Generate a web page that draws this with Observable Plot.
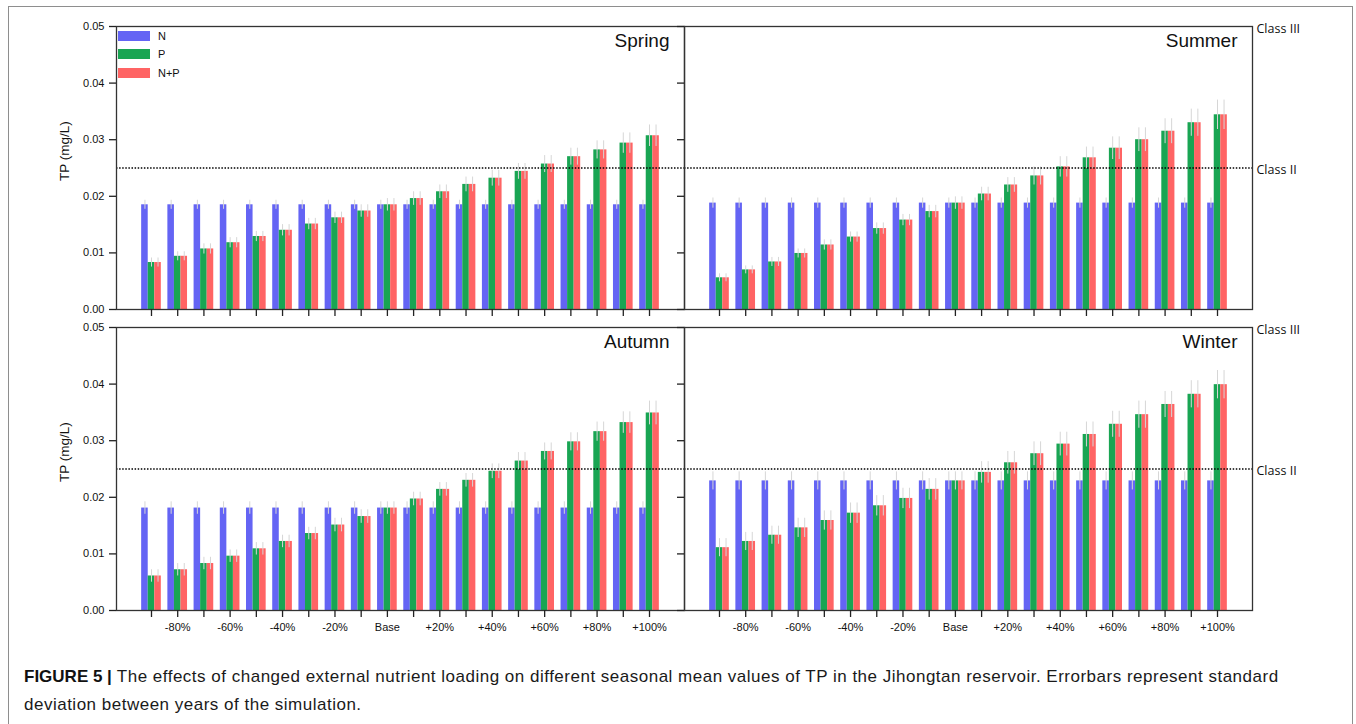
<!DOCTYPE html>
<html>
<head>
<meta charset="utf-8">
<script src="https://cdn.jsdelivr.net/npm/d3@7"></script>
<script src="https://cdn.jsdelivr.net/npm/@observablehq/plot@0.6"></script>
<style>
  html, body { margin: 0; padding: 0; background: #fff; }
  body { width: 1356px; height: 724px; position: relative; overflow: hidden;
         font-family: "Liberation Sans", Arial, sans-serif; }
  #box { position: absolute; left: 8px; top: 6px; width: 1345px; height: 760px;
         border: 1.5px solid #8e8e8e; border-bottom: none; box-sizing: border-box; }
  #chart { position: absolute; left: 0; top: 0; }
  #key { position: absolute; left: 118px; top: 26.4px; }
  #key .tpkey-swatches { margin: 0; font-family: "Liberation Sans", Arial, sans-serif;
                         font-size: 11px; color: #111; }
  #key .tpkey-swatch { height: 18.6px; padding: 0; display: flex; align-items: center; }
  #key .tpkey-swatch > svg { margin-right: 8px; }
  #caption { position: absolute; left: 24px; top: 663px; font-size: 17px;
             line-height: 27.7px; white-space: nowrap; color: #1a1a1a; letter-spacing: 0.5px; }
  #caption b { font-weight: bold; color: #111; letter-spacing: 0; }
</style>
</head>
<body>
<div id="box"></div>
<div id="chart"></div>
<div id="key"></div>
<div id="caption"><b>FIGURE 5 |</b> The effects of changed external nutrient loading on different seasonal mean values of TP in the Jihongtan reservoir. Errorbars represent standard<br>deviation between years of the simulation.</div>
<script>
// Panels, in reading order (left-right, top-bottom)
const seasons = ["Spring", "Summer", "Autumn", "Winter"];

// External loading scenarios (change relative to the base run)
const loadings = ["-90%", "-80%", "-70%", "-60%", "-50%", "-40%", "-30%", "-20%", "-10%", "Base",
                  "+10%", "+20%", "+30%", "+40%", "+50%", "+60%", "+70%", "+80%", "+90%", "+100%"];
// Scenarios that carry a tick label
const tickLabels = ["-80%", "-60%", "-40%", "-20%", "Base", "+20%", "+40%", "+60%", "+80%", "+100%"];

// Reduced nutrient: N only, P only, both
const seriesNames = ["N", "P", "N+P"];
const seriesColors = ["#6464f4", "#19a553", "#ff6464"];

// y axis ticks and water-quality class limits for TP (mg/L)
const yTicks = [0, 0.01, 0.02, 0.03, 0.04, 0.05];
const classNames = ["Class III", "Class II"];
const classLevels = [0.05, 0.025];

// Seasonal mean TP (mg/L)
const springN  = [0.0185, 0.0185, 0.0185, 0.0185, 0.0185, 0.0185, 0.0185, 0.0185, 0.0185, 0.0185,
                  0.0185, 0.0185, 0.0185, 0.0185, 0.0185, 0.0185, 0.0185, 0.0185, 0.0185, 0.0185];
const springP  = [0.0083, 0.0094, 0.0107, 0.0118, 0.0129, 0.0140, 0.0151, 0.0162, 0.0174, 0.0185,
                  0.0196, 0.0208, 0.0221, 0.0232, 0.0244, 0.0257, 0.0270, 0.0282, 0.0294, 0.0307];
const springNP = [0.0083, 0.0094, 0.0107, 0.0118, 0.0129, 0.0140, 0.0151, 0.0162, 0.0174, 0.0185,
                  0.0196, 0.0208, 0.0221, 0.0232, 0.0244, 0.0257, 0.0270, 0.0282, 0.0294, 0.0307];

const summerN  = [0.0188, 0.0188, 0.0188, 0.0188, 0.0188, 0.0188, 0.0188, 0.0188, 0.0188, 0.0188,
                  0.0188, 0.0188, 0.0188, 0.0188, 0.0188, 0.0188, 0.0188, 0.0188, 0.0188, 0.0188];
const summerP  = [0.0056, 0.0070, 0.0084, 0.0099, 0.0114, 0.0128, 0.0143, 0.0158, 0.0173, 0.0188,
                  0.0204, 0.0220, 0.0236, 0.0252, 0.0268, 0.0285, 0.0300, 0.0315, 0.0330, 0.0344];
const summerNP = [0.0056, 0.0070, 0.0084, 0.0099, 0.0114, 0.0128, 0.0143, 0.0158, 0.0173, 0.0188,
                  0.0204, 0.0220, 0.0236, 0.0252, 0.0268, 0.0285, 0.0300, 0.0315, 0.0330, 0.0344];

const autumnN  = [0.0181, 0.0181, 0.0181, 0.0181, 0.0181, 0.0181, 0.0181, 0.0181, 0.0181, 0.0181,
                  0.0181, 0.0181, 0.0181, 0.0181, 0.0181, 0.0181, 0.0181, 0.0181, 0.0181, 0.0181];
const autumnP  = [0.0061, 0.0072, 0.0083, 0.0096, 0.0109, 0.0122, 0.0136, 0.0151, 0.0166, 0.0181,
                  0.0197, 0.0214, 0.0230, 0.0246, 0.0264, 0.0281, 0.0298, 0.0316, 0.0332, 0.0349];
const autumnNP = [0.0061, 0.0072, 0.0083, 0.0096, 0.0109, 0.0122, 0.0136, 0.0151, 0.0166, 0.0181,
                  0.0197, 0.0214, 0.0230, 0.0246, 0.0264, 0.0281, 0.0298, 0.0316, 0.0332, 0.0349];

const winterN  = [0.0229, 0.0229, 0.0229, 0.0229, 0.0229, 0.0229, 0.0229, 0.0229, 0.0229, 0.0229,
                  0.0229, 0.0229, 0.0229, 0.0229, 0.0229, 0.0229, 0.0229, 0.0229, 0.0229, 0.0229];
const winterP  = [0.0111, 0.0122, 0.0133, 0.0146, 0.0159, 0.0172, 0.0185, 0.0198, 0.0214, 0.0229,
                  0.0244, 0.0261, 0.0277, 0.0294, 0.0311, 0.0329, 0.0346, 0.0364, 0.0382, 0.0399];
const winterNP = [0.0111, 0.0122, 0.0133, 0.0146, 0.0159, 0.0172, 0.0185, 0.0198, 0.0214, 0.0229,
                  0.0244, 0.0261, 0.0277, 0.0294, 0.0311, 0.0329, 0.0346, 0.0364, 0.0382, 0.0399];

// Standard deviation between simulated years (mg/L)
const springSdN  = [0.0008, 0.0008, 0.0008, 0.0008, 0.0008, 0.0008, 0.0008, 0.0008, 0.0008, 0.0008,
                    0.0008, 0.0008, 0.0008, 0.0008, 0.0008, 0.0008, 0.0008, 0.0008, 0.0008, 0.0008];
const springSdP  = [0.0008, 0.0008, 0.0009, 0.0009, 0.0009, 0.0010, 0.0010, 0.0010, 0.0011, 0.0011,
                    0.0012, 0.0012, 0.0013, 0.0014, 0.0014, 0.0015, 0.0015, 0.0016, 0.0018, 0.0019];
const springSdNP = [0.0008, 0.0008, 0.0009, 0.0009, 0.0009, 0.0010, 0.0010, 0.0010, 0.0011, 0.0011,
                    0.0012, 0.0012, 0.0013, 0.0014, 0.0014, 0.0015, 0.0015, 0.0016, 0.0018, 0.0019];

const summerSdN  = [0.0009, 0.0009, 0.0009, 0.0009, 0.0009, 0.0009, 0.0009, 0.0009, 0.0009, 0.0009,
                    0.0009, 0.0009, 0.0009, 0.0009, 0.0009, 0.0009, 0.0009, 0.0009, 0.0009, 0.0009];
const summerSdP  = [0.0007, 0.0007, 0.0008, 0.0008, 0.0009, 0.0009, 0.0010, 0.0010, 0.0011, 0.0011,
                    0.0012, 0.0013, 0.0016, 0.0018, 0.0019, 0.0020, 0.0021, 0.0022, 0.0024, 0.0026];
const summerSdNP = [0.0007, 0.0007, 0.0008, 0.0008, 0.0009, 0.0009, 0.0010, 0.0010, 0.0011, 0.0011,
                    0.0012, 0.0013, 0.0016, 0.0018, 0.0019, 0.0020, 0.0021, 0.0022, 0.0024, 0.0026];

const autumnSdN  = [0.0011, 0.0011, 0.0011, 0.0011, 0.0011, 0.0011, 0.0011, 0.0011, 0.0011, 0.0011,
                    0.0011, 0.0011, 0.0011, 0.0011, 0.0011, 0.0011, 0.0011, 0.0011, 0.0011, 0.0011];
const autumnSdP  = [0.0011, 0.0011, 0.0011, 0.0011, 0.0011, 0.0011, 0.0011, 0.0012, 0.0012, 0.0011,
                    0.0012, 0.0012, 0.0012, 0.0013, 0.0015, 0.0015, 0.0016, 0.0017, 0.0019, 0.0021];
const autumnSdNP = [0.0011, 0.0011, 0.0011, 0.0011, 0.0011, 0.0011, 0.0011, 0.0012, 0.0012, 0.0011,
                    0.0012, 0.0012, 0.0012, 0.0013, 0.0015, 0.0015, 0.0016, 0.0017, 0.0019, 0.0021];

const winterSdN  = [0.0016, 0.0016, 0.0016, 0.0016, 0.0016, 0.0016, 0.0016, 0.0016, 0.0016, 0.0016,
                    0.0016, 0.0016, 0.0016, 0.0016, 0.0016, 0.0016, 0.0016, 0.0016, 0.0016, 0.0016];
const winterSdP  = [0.0016, 0.0016, 0.0016, 0.0017, 0.0017, 0.0018, 0.0018, 0.0018, 0.0019, 0.0016,
                    0.0019, 0.0020, 0.0021, 0.0021, 0.0022, 0.0023, 0.0024, 0.0023, 0.0024, 0.0025];
const winterSdNP = [0.0016, 0.0016, 0.0016, 0.0017, 0.0017, 0.0018, 0.0018, 0.0018, 0.0019, 0.0016,
                    0.0019, 0.0020, 0.0021, 0.0021, 0.0022, 0.0023, 0.0024, 0.0023, 0.0024, 0.0025];

const means = {
  Spring: [springN, springP, springNP], Summer: [summerN, summerP, summerNP],
  Autumn: [autumnN, autumnP, autumnNP], Winter: [winterN, winterP, winterNP]
};
const spreads = {
  Spring: [springSdN, springSdP, springSdNP], Summer: [summerSdN, summerSdP, summerSdNP],
  Autumn: [autumnSdN, autumnSdP, autumnSdNP], Winter: [winterSdN, winterSdP, winterSdNP]
};

// One x slot per bar, with an empty slot between scenario groups
const slotKey = (loading, series) => `${loading}|${series}`;
const xDomain = loadings.flatMap((l, i) => {
  const keys = seriesNames.map((s) => slotKey(l, s));
  return i < loadings.length - 1 ? [...keys, slotKey(l, "gap")] : keys;
});
const tickKeys = loadings.map((l) => slotKey(l, "P"));
const tickText = (k) => { const l = k.split("|")[0]; return tickLabels.includes(l) ? l : ""; };

const panel = (i) => ({col: i % 2, row: Math.floor(i / 2)});

const rows = seasons.flatMap((season, si) =>
  loadings.flatMap((l, gi) =>
    seriesNames.map((s, k) => ({
      season, ...panel(si), series: s, key: slotKey(l, s),
      value: means[season][k][gi], sd: spreads[season][k][gi]
    }))
  )
);
const panelTitles = seasons.map((season, si) => ({season, ...panel(si)}));
const leftPanels = panelTitles.filter((d) => d.col === 0);
const classRows = panelTitles.filter((d) => d.col === 1)
  .flatMap((p) => classNames.map((name, i) => ({...p, name, level: classLevels[i]})));

const chart = Plot.plot({
  width: 1356,
  height: 645,
  marginLeft: 115,
  marginRight: 103.3,
  marginTop: 25.7,
  marginBottom: 34.3,
  style: {fontFamily: "'Liberation Sans', Arial, sans-serif", fontSize: "11px", color: "#111", background: "transparent", overflow: "visible"},
  fx: {domain: [0, 1], padding: 0, axis: null},
  fy: {domain: [0, 1], paddingInner: 0.059, paddingOuter: 0, axis: null},
  x: {type: "band", domain: xDomain, paddingInner: 0, paddingOuter: 3.84, round: false},
  y: {domain: [0, 0.05], nice: false},
  color: {domain: seriesNames, range: seriesColors},
  marks: [
    Plot.barY(rows, {fx: "col", fy: "row", x: "key", y: "value", fill: "series"}),
    Plot.ruleX(rows, {fx: "col", fy: "row", x: "key",
      y1: (d) => d.value - d.sd, y2: (d) => d.value + d.sd, stroke: "#d6d6d6", strokeWidth: 1}),
    Plot.ruleY([classLevels[1]], {stroke: "#000", strokeWidth: 1.6, strokeDasharray: "1.5,1.6"}),
    Plot.frame({stroke: "#333", strokeWidth: 1.3}),
    Plot.axisY({ticks: yTicks, tickFormat: d3.format(".2f"), tickSize: 7, tickPadding: 5,
      fontSize: 11, label: null, facetAnchor: "left", stroke: "#222", strokeWidth: 1.3}),
    Plot.axisY({ticks: yTicks, tickFormat: () => "", tickSize: 7, label: null,
      facetAnchor: "right", stroke: "#222", strokeWidth: 1.3}),
    Plot.axisX({ticks: tickKeys, tickFormat: tickText, tickSize: 7, tickPadding: 6,
      fontSize: 11, label: null, facetAnchor: "bottom", stroke: "#222", strokeWidth: 1.3}),
    Plot.axisX({ticks: tickKeys, tickFormat: () => "", tickSize: 7, label: null,
      facetAnchor: "top", stroke: "#222", strokeWidth: 1.3}),
    Plot.text(panelTitles, {fx: "col", fy: "row", text: "season", frameAnchor: "top-right",
      dx: -15, dy: 7, fontSize: 19, fill: "#111"}),
    Plot.text(leftPanels, {fx: "col", fy: "row", text: () => "TP (mg/L)", frameAnchor: "left",
      rotate: -90, dx: -52, dy: 13, fontSize: 13.5, fill: "#111"}),
    Plot.text(classRows, {fx: "col", fy: "row", y: "level", text: "name", frameAnchor: "right",
      textAnchor: "start", dx: 4, dy: 2, fontFamily: "'Open Sans', sans-serif", fontSize: 12.5, fill: "#111"})
  ]
});
document.getElementById("chart").append(chart);

const key = Plot.legend({
  color: {domain: seriesNames, range: seriesColors},
  legend: "swatches", columns: 1, swatchWidth: 32, swatchHeight: 10, className: "tpkey"
});
document.getElementById("key").append(key);
</script>
</body>
</html>
